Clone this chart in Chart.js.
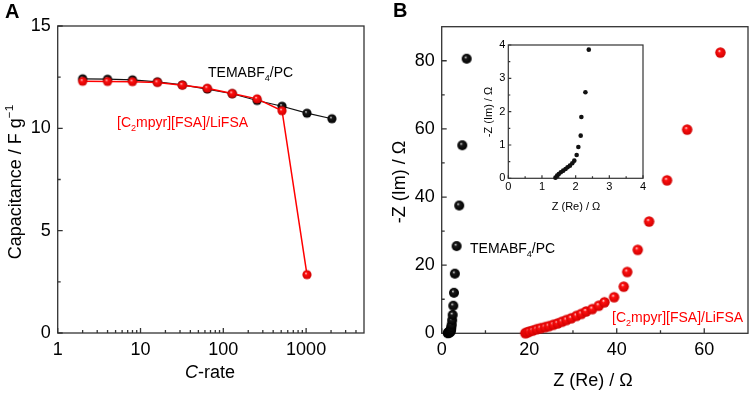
<!DOCTYPE html>
<html>
<head>
<meta charset="utf-8">
<script src="https://cdn.jsdelivr.net/npm/chart.js@4.4.1/dist/chart.umd.min.js"></script>
<style>
  html, body { margin: 0; padding: 0; background: #fff; }
  #wrap { position: relative; width: 754px; height: 393px; overflow: hidden; }
  canvas { position: absolute; }
</style>
</head>
<body>
<div id="wrap">
  <canvas id="chartA" width="377" height="393" style="left:0;top:0"></canvas>
  <canvas id="chartB" width="377" height="393" style="left:377px;top:0"></canvas>
  <canvas id="chartInset" width="180" height="180" style="left:470px;top:35px"></canvas>
</div>
<script>
// Panel A: capacitance vs C-rate
const cRates = [2, 4, 8, 16, 32, 64, 128, 256, 512, 1024, 2048];
const capTema = [12.42, 12.40, 12.37, 12.27, 12.12, 11.92, 11.69, 11.36, 11.08, 10.74, 10.47];
const capIonic = [12.30, 12.29, 12.28, 12.24, 12.11, 11.96, 11.70, 11.44, 10.86, 2.85];

const aXLabels = [1, 10, 100, 1000];
const aYLabels = [0, 5, 10, 15];

// Panel B: Nyquist plot
const temaRe = [1.40, 1.45, 1.50, 1.56, 1.63, 1.70, 1.76, 1.83, 1.90, 1.96, 2.03, 2.08, 2.15, 2.17, 2.29, 2.39,
  2.50, 2.65, 2.80, 3.00, 3.40, 4.00, 4.70, 5.70];
const temaIm = [0.02, 0.08, 0.13, 0.18, 0.23, 0.28, 0.33, 0.38, 0.45, 0.53, 0.70, 0.94, 1.28, 1.84, 2.58, 3.86,
  5.4, 8.1, 11.9, 17.5, 25.6, 37.5, 55.2, 80.6];
const ionicRe = [19.1, 19.5, 20.0, 20.8, 21.7, 22.6, 23.6, 24.5, 25.5, 26.5, 27.5, 28.5, 29.6, 30.8, 31.9,
  33.0, 34.4, 35.9, 37.2, 39.4, 41.6, 42.4, 44.8, 47.4, 51.5, 56.1, 63.7];
const ionicIm = [0.05, 0.2, 0.5, 0.8, 1.2, 1.5, 1.8, 2.1, 2.5, 2.9, 3.4, 3.9, 4.4, 5.1, 5.7,
  6.4, 7.1, 8.1, 9.1, 10.6, 13.7, 18.0, 24.5, 32.8, 44.9, 59.8, 82.4];

const bXLabels = [0, 20, 40, 60];
const bYLabels = [0, 20, 40, 60, 80];
const insetLabels = [0, 1, 2, 3, 4];

Chart.defaults.font.family = "'Liberation Sans', Arial, sans-serif";
Chart.defaults.color = '#000';

// shaded ball markers
function makeBall(r, base, edge) {
  const c = document.createElement('canvas');
  const s = Math.ceil(r * 2 + 2);
  c.width = s; c.height = s;
  const g = c.getContext('2d');
  const cx = s / 2, cy = s / 2;
  const grad = g.createRadialGradient(cx - r * 0.25, cy - r * 0.35, 0, cx, cy, r);
  grad.addColorStop(0, '#ffffff');
  grad.addColorStop(0.3, base);
  grad.addColorStop(1, edge);
  g.fillStyle = grad;
  g.beginPath();
  g.arc(cx, cy, r, 0, Math.PI * 2);
  g.fill();
  return c;
}
const blackBallA = makeBall(4.6, '#1a1a1a', '#000');
const redBallA = makeBall(4.6, '#ff1010', '#d00000');
const blackBallB = makeBall(5, '#1a1a1a', '#000');
const redBallB = makeBall(5.2, '#ff1010', '#d00000');

// rich text helpers (sub/superscripts, italics)
function partFont(p, size, bold) {
  const s = (p[1] === 'sub' || p[1] === 'sup') ? size * 0.65 : size;
  return (p[1] === 'i' ? 'italic ' : '') + (bold ? 'bold ' : '') + s + "px 'Liberation Sans', Arial, sans-serif";
}
function richWidth(ctx, parts, size, bold) {
  let w = 0;
  parts.forEach(p => { ctx.font = partFont(p, size, bold); w += ctx.measureText(p[0]).width; });
  return w;
}
function drawRich(ctx, parts, x, y, size, bold) {
  parts.forEach(p => {
    ctx.font = partFont(p, size, bold);
    let dy = 0;
    if (p[1] === 'sub') dy = size * 0.3;
    if (p[1] === 'sup') dy = -size * 0.42;
    ctx.fillText(p[0], x, y + dy);
    x += ctx.measureText(p[0]).width;
  });
}

const framePlugin = {
  id: 'frame',
  beforeDatasetsDraw(chart, args, o) {
    const { ctx, chartArea: a, scales: { x, y } } = chart;
    ctx.save();
    ctx.strokeStyle = '#333';
    ctx.lineWidth = o.lineWidth;
    ctx.strokeRect(a.left, a.top, a.right - a.left, a.bottom - a.top);
    ctx.beginPath();
    const xt = (vals, len) => vals.forEach(v => {
      const px = x.getPixelForValue(v);
      ctx.moveTo(px, a.bottom); ctx.lineTo(px, a.bottom - len);
    });
    const yt = (vals, len) => vals.forEach(v => {
      const py = y.getPixelForValue(v);
      ctx.moveTo(a.left, py); ctx.lineTo(a.left + len, py);
    });
    xt(o.xMajor, o.major); xt(o.xMinor, o.minor);
    yt(o.yMajor, o.major); yt(o.yMinor, o.minor);
    ctx.stroke();
    ctx.restore();
  }
};

const notesPlugin = {
  id: 'notes',
  afterDraw(chart, args, o) {
    const ctx = chart.ctx;
    ctx.save();
    ctx.textBaseline = 'alphabetic';
    ctx.textAlign = 'left';
    o.items.forEach(n => {
      ctx.fillStyle = n.color || '#000';
      const w = richWidth(ctx, n.parts, n.size, n.bold);
      if (n.rotate) {
        ctx.save();
        ctx.translate(n.x, n.y);
        ctx.rotate(-Math.PI / 2);
        drawRich(ctx, n.parts, -w / 2, 0, n.size, n.bold);
        ctx.restore();
      } else {
        const x0 = n.align === 'center' ? n.x - w / 2 : n.x;
        drawRich(ctx, n.parts, x0, n.y, n.size, n.bold);
      }
    });
    ctx.restore();
  }
};

function axis(opts) {
  return Object.assign({
    grid: { display: false, drawTicks: false },
    border: { display: false },
  }, opts);
}

// minor tick values for the log axis
const aXMinor = [];
[1, 10, 100, 1000].forEach(d => {
  for (let m = 2; m <= 9; m++) if (m * d < 5000) aXMinor.push(m * d);
});

// ---- Panel A ----
new Chart(document.getElementById('chartA'), {
  type: 'line',
  data: {
    datasets: [
      {
        label: 'TEMABF4/PC',
        data: cRates.map((c, i) => ({ x: c, y: capTema[i] })),
        borderColor: '#111',
        borderWidth: 1.2,
        pointStyle: blackBallA,
        pointRadius: 5,
        clip: false,
        order: 1,
      },
      {
        label: '[C2mpyr][FSA]/LiFSA',
        data: capIonic.map((v, i) => ({ x: cRates[i], y: v })),
        borderColor: '#ff0000',
        borderWidth: 1.5,
        pointStyle: redBallA,
        pointRadius: 5,
        clip: false,
        order: 0,
      },
    ],
  },
  options: {
    responsive: false,
    animation: false,
    devicePixelRatio: 1,
    layout: { padding: { left: 0, top: 26, right: 13, bottom: 0 } },
    plugins: {
      legend: { display: false },
      tooltip: { enabled: false },
      frame: { lineWidth: 1.3, major: 5, minor: 3, xMajor: aXLabels, xMinor: aXMinor, yMajor: aYLabels, yMinor: [2.5, 7.5, 12.5] },
      notes: {
        items: [
          { x: 5, y: 18, parts: [['A', '']], size: 20, bold: true },
          { x: 208, y: 77, parts: [['TEMABF', ''], ['4', 'sub'], ['/PC', '']], size: 14 },
          { x: 117, y: 127, parts: [['[C', ''], ['2', 'sub'], ['mpyr][FSA]/LiFSA', '']], size: 14, color: '#ff0000' },
          { x: 210, y: 378, align: 'center', parts: [['C', 'i'], ['-rate', '']], size: 18 },
          { x: 21, y: 182, rotate: true, parts: [['Capacitance / F g', ''], ['\u22121', 'sup']], size: 18 },
        ],
      },
    },
    scales: {
      x: axis({
        type: 'logarithmic', min: 1, max: 5000,
        afterBuildTicks: s => { s.ticks = aXLabels.map(v => ({ value: v })); },
        afterFit: s => { s.height = 60; },
        ticks: { font: { size: 18 }, padding: 6, maxRotation: 0, autoSkip: false, callback: v => String(v) },
      }),
      y: axis({
        min: 0, max: 15,
        afterBuildTicks: s => { s.ticks = aYLabels.map(v => ({ value: v })); },
        afterFit: s => { s.width = 57.7; },
        ticks: { font: { size: 18 }, padding: 7 },
      }),
    },
  },
  plugins: [framePlugin, notesPlugin],
});

// ---- Panel B ----
new Chart(document.getElementById('chartB'), {
  type: 'scatter',
  data: {
    datasets: [
      {
        label: 'TEMABF4/PC',
        data: temaRe.map((x, i) => ({ x: x, y: temaIm[i] })),
        pointStyle: blackBallB,
        pointRadius: 5,
        clip: false,
      },
      {
        label: '[C2mpyr][FSA]/LiFSA',
        data: ionicRe.map((x, i) => ({ x: x, y: ionicIm[i] })),
        pointStyle: redBallB,
        pointRadius: 5,
        clip: false,
      },
    ],
  },
  options: {
    responsive: false,
    animation: false,
    devicePixelRatio: 1,
    layout: { padding: { left: 0, top: 26.7, right: 3.3, bottom: 0 } },
    plugins: {
      legend: { display: false },
      tooltip: { enabled: false },
      frame: { lineWidth: 1.3, major: 5, minor: 3, xMajor: bXLabels, xMinor: [10, 30, 50], yMajor: bYLabels, yMinor: [10, 30, 50, 70] },
      notes: {
        items: [
          { x: 16, y: 17, parts: [['B', '']], size: 20, bold: true },
          { x: 93, y: 253, parts: [['TEMABF', ''], ['4', 'sub'], ['/PC', '']], size: 14 },
          { x: 235, y: 322, parts: [['[C', ''], ['2', 'sub'], ['mpyr][FSA]/LiFSA', '']], size: 14, color: '#ff0000' },
          { x: 216, y: 386, align: 'center', parts: [['Z (Re) / \u03a9', '']], size: 18 },
          { x: 28, y: 182, rotate: true, parts: [['-Z (Im) / \u03a9', '']], size: 18 },
        ],
      },
    },
    scales: {
      x: axis({
        min: 0, max: 70,
        afterBuildTicks: s => { s.ticks = bXLabels.map(v => ({ value: v })); },
        afterFit: s => { s.height = 59.7; },
        ticks: { font: { size: 18 }, padding: 6, maxRotation: 0 },
      }),
      y: axis({
        min: 0, max: 90,
        afterBuildTicks: s => { s.ticks = bYLabels.map(v => ({ value: v })); },
        afterFit: s => { s.width = 64.7; },
        ticks: { font: { size: 18 }, padding: 7 },
      }),
    },
  },
  plugins: [framePlugin, notesPlugin],
});

// ---- Inset (zoom of TEMABF4/PC) ----
new Chart(document.getElementById('chartInset'), {
  type: 'scatter',
  data: {
    datasets: [
      {
        label: 'TEMABF4/PC',
        data: temaRe.map((x, i) => ({ x: x, y: temaIm[i] })),
        pointStyle: 'circle',
        pointRadius: 2.3,
        backgroundColor: '#111',
        borderWidth: 0,
        clip: { left: 4, top: 0, right: 0, bottom: 4 },
      },
    ],
  },
  options: {
    responsive: false,
    animation: false,
    devicePixelRatio: 1,
    layout: { padding: { left: 0, top: 10, right: 7, bottom: 0 } },
    plugins: {
      legend: { display: false },
      tooltip: { enabled: false },
      frame: { lineWidth: 1.2, major: 3, minor: 2, xMajor: insetLabels, xMinor: [0.5, 1.5, 2.5, 3.5], yMajor: insetLabels, yMinor: [0.5, 1.5, 2.5, 3.5] },
      notes: {
        items: [
          { x: 106, y: 175, align: 'center', parts: [['Z (Re) / \u03a9', '']], size: 11 },
          { x: 22, y: 77, rotate: true, parts: [['-Z (Im) / \u03a9', '']], size: 11 },
        ],
      },
    },
    scales: {
      x: axis({
        min: 0, max: 4,
        afterBuildTicks: s => { s.ticks = insetLabels.map(v => ({ value: v })); },
        afterFit: s => { s.height = 36.7; },
        ticks: { font: { size: 11 }, padding: 2, maxRotation: 0 },
      }),
      y: axis({
        min: 0, max: 4,
        afterBuildTicks: s => { s.ticks = insetLabels.map(v => ({ value: v })); },
        afterFit: s => { s.width = 38.3; },
        ticks: { font: { size: 11 }, padding: 3 },
      }),
    },
  },
  plugins: [framePlugin, notesPlugin],
});
</script>
</body>
</html>
